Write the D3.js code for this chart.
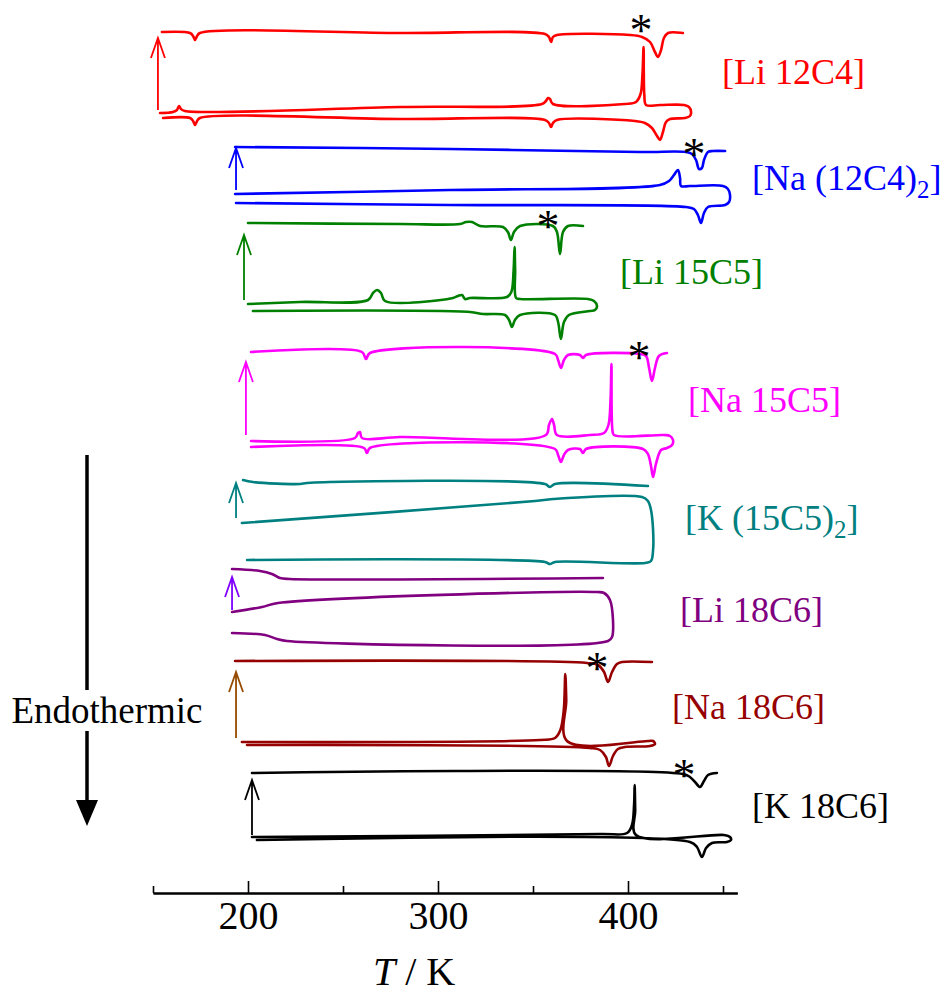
<!DOCTYPE html>
<html>
<head>
<meta charset="utf-8">
<script src="https://cdn.jsdelivr.net/npm/d3@7/dist/d3.min.js"></script>
<style>
  body { margin: 0; background: #fff; }
  svg { display: block; font-family: "Liberation Serif", "Times New Roman", serif; }
</style>
</head>
<body>
<svg width="952" height="993"></svg>
<script>
// ---- data: temperature T (K), heat flow (a.u., stacked with offsets) ----
var sampleNames = [['[Li 12C4]'], ['[Na (12C4)', '2', ']'], ['[Li 15C5]'], ['[Na 15C5]'],
  ['[K (15C5)', '2', ']'], ['[Li 18C6]'], ['[Na 18C6]'], ['[K 18C6]']];
var traceColors = ['#ff0000', '#0000ff', '#008000', '#ff00ff', '#008080', '#800080', '#960000', '#000000'];
var arrowColors = ['#ff0000', '#0000ff', '#008000', '#ff00ff', '#008080', '#8000ff', '#964b00', '#000000'];

// first heating (upper trace)
var li12c4Top = [[154.7,84.8],[169.5,84.7],[171.1,84.4],[172.1,84.0],[173.2,84.4],[174.7,84.7],[280,84.7],
  [356.3,84.6],[358.4,84.3],[359.5,83.8],[360.5,84.3],[362.6,84.5],[401.1,84.5],[407.4,84.3],[411.6,83.8],
  [414.2,82.8],[415.8,82.3],[417.4,83.0],[418.9,84.2],[421.1,84.7],[428.9,84.7]];
// second heating (lower) -> turn -> cooling (middle)
var li12c4Loop = [[155.3,76.2],[169.5,76.2],[171.1,75.9],[172.1,75.5],[173.2,75.9],[174.7,76.2],[280,76.1],
  [356.3,76.0],[358.4,75.7],[359.5,75.3],[360.5,75.7],[362.6,76.0],[403.7,75.9],[408.9,75.7],[412.6,75.2],
  [415.3,74.4],[416.8,74.0],[418.4,74.8],[420.0,75.8],[422.1,76.1],[430.0,76.2],
  [432.6,76.4],[433.2,76.8],[432.1,77.3],[429.5,77.5],
  [416.8,77.5],[409.5,77.5],[408.6,78.5],[408.2,83.3],[407.6,80.5],[406.6,78.6],[404.2,77.8],[398.4,77.6],
  [360.5,77.6],[358.9,78.1],[357.9,78.2],[356.8,77.9],[354.7,77.6],[280,77.3],
  [166.8,76.9],[164.7,77.1],[163.7,77.4],[162.6,77.0],[160.5,76.8],[153.7,76.7]];

var na12c4Top = [[193.2,73.3],[306.3,73.1],[406.3,72.8],[430.5,72.8],[433.7,72.6],[435.8,72.0],[437.4,71.1],
  [438.9,71.2],[440.0,72.0],[442.1,72.8],[444.7,72.9],[451.1,72.9]];
var na12c4Loop = [[193.7,67.7],[306.3,67.5],[430.5,67.3],[434.7,67.1],[436.8,66.5],[438.4,65.7],[440.0,66.7],
  [442.1,67.3],[451.1,67.5],[453.2,67.8],[453.7,68.5],[452.6,69.1],[450.0,69.4],
  [432.6,69.4],[427.9,69.4],[427.4,70.2],[426.3,71.0],[424.2,70.5],[421.6,69.9],[416.8,69.5],[306.3,69.0],[193.2,68.6]];

var li15c5Top = [[200,65.7],[280,65.6],[311.6,65.6],[314.7,65.8],[317.9,65.8],[322.1,65.4],[334.2,65.3],
  [336.8,64.8],[338.4,64.0],[340,64.8],[343.2,65.4],[360.5,65.4],[362.6,64.8],[364.2,62.6],[365.8,64.8],
  [368.4,65.4],[376.3,65.4]];
var li15c5Loop = [[202.6,56.9],[316.8,56.8],[323.7,56.6],[335.3,56.5],[337.4,56.0],[338.9,55.3],[340.5,56.0],
  [343.2,56.5],[361.6,56.5],[363.2,55.8],[364.7,54.1],[366.3,55.8],[368.9,56.5],[380,56.9],
  [382.6,57.0],[383.7,57.4],[382.1,57.9],[378.9,58.1],
  [343.2,58.1],[341.1,58.2],[340.6,61.0],[340.3,63.3],[339.8,61.0],[338.6,58.8],[336.3,58.3],[316.8,58.2],
  [314.2,58.1],[312.6,58.5],[310.5,58.4],[307.9,58.2],[272.1,57.9],[270.0,58.7],[267.9,59.0],[265.8,58.7],
  [263.2,58.0],[227.4,57.8],[200,57.6]];

var na15c5Top = [[201.6,52.8],[260,52.8],[262.1,52.1],[264.2,52.7],[361.6,52.6],[363.2,52.0],[364.7,51.2],
  [366.3,52.0],[368.4,52.5],[374.7,52.5],[376.3,52.2],[377.9,52.5],[406.3,52.6],[409.5,52.4],[411.1,51.2],
  [412.6,49.9],[414.2,51.2],[416.3,52.4],[420.5,52.7]];
var na15c5Loop = [[201.6,43.3],[261.1,43.2],[262.6,42.7],[264.2,43.2],[361.6,43.1],[363.2,42.5],[364.7,41.8],
  [366.3,42.5],[368.4,43.0],[374.7,43.1],[376.3,42.7],[377.9,43.1],[407.9,43.1],[410.5,42.6],[412.1,41.4],
  [413.2,40.3],[414.7,41.6],[417.4,43.0],[420.5,43.2],
  [423.2,43.5],[423.7,44.0],[422.1,44.4],[418.9,44.5],
  [392.6,44.5],[391.8,45.0],[391.3,51.6],[390.8,48.0],[389.7,45.5],[387.4,44.7],[380,44.5],[362.6,44.5],
  [361.1,45.5],[360.0,46.1],[358.4,45.5],[356.8,44.5],[280,44.3],[260,44.2],[258.9,44.8],[257.9,44.7],
  [256.3,44.2],[201.6,43.9]];

var k15c5Top = [[197.4,40.0],[202.6,39.8],[227.4,39.6],[231.1,39.7],[356.3,39.6],[358.9,39.3],[361.6,39.6],[410.5,39.4]];
var k15c5Loop = [[199.5,32.0],[356.3,31.8],[358.9,31.6],[361.6,31.8],[408.9,31.7],
  [412.1,31.9],[413.2,33.0],[413.2,35.0],[412.1,37.0],[410.5,37.9],[407.4,38.3],
  [360.5,38.1],[351.1,37.9],[196.8,35.7]];

var li18c6Top = [[191.6,31.1],[206.3,30.9],[212.6,30.6],[216.8,30.2],[222.1,30.1],[386.8,30.2]];
var li18c6Loop = [[191.6,24.7],[208.9,24.5],[215.3,24.1],[220.5,23.9],[389.5,23.9],
  [391.6,24.3],[392.1,26.0],[390.5,28.0],[387.4,28.7],[383.7,28.8],
  [215.8,27.7],[207.4,27.3],[191.6,26.8]];

var na18c6Top = [[193.2,21.9],[378.4,21.7],[384.2,21.5],[387.4,20.8],[389.5,19.8],[391.6,20.8],[394.2,21.6],
  [396.8,21.8],[412.6,21.8]];
var na18c6Loop = [[199.5,13.5],[380,13.2],[385.3,13.0],[388.4,12.3],[390.0,11.4],[392.1,12.4],[394.7,13.1],
  [398.4,13.3],[411.6,13.4],[414.2,13.6],[413.2,13.9],[410.5,13.9],
  [367.9,13.9],[367.5,18.0],[367.0,20.6],[366.2,17.0],[364.4,15.0],[361.6,14.2],[353.7,14.0],[196.8,13.8]];

var k18c6Top = [[202.1,10.7],[428.9,10.6],[432.6,10.3],[435.3,9.8],[437.9,9.3],[440.0,9.9],[442.1,10.5],[446.8,10.7]];
var k18c6Loop = [[204.7,4.0],[432.6,3.8],[436.3,3.3],[438.9,2.3],[441.1,3.2],[444.2,3.7],[452.1,3.8],
  [454.2,4.0],[453.7,4.3],[450.5,4.5],
  [404.2,4.5],[403.8,7.0],[403.5,9.5],[403.2,7.5],[402.1,5.5],[399.5,4.7],[385.3,4.6],[202.1,4.3]];

// vertical arrows: [T, from, to]
var upArrows = [[152.6,77.0,84.2],[193.7,69.0,73.2],[197.9,58.0,64.5],[198.9,44.5,51.8],
  [193.7,36.2,39.7],[191.6,27.0,30.3],[193.7,14.2,20.8],[202.1,4.5,10.0]];
// asterisks: [T, level]
var starMarks = [[406.8,85.8],[434.7,73.4],[357.9,66.2],[405.8,53.1],null,null,[383.7,22.0],[429.5,11.3]];

var majorTicks = [200, 300, 400];
var minorTicks = [150, 250, 350, 450];

var topTraces = [li12c4Top, na12c4Top, li15c5Top, na15c5Top, k15c5Top, li18c6Top, na18c6Top, k18c6Top];
var loopTraces = [li12c4Loop, na12c4Loop, li15c5Loop, na15c5Loop, k15c5Loop, li18c6Loop, na18c6Loop, k18c6Loop];
// label placement (px)
var labelPos = [[722, 84], [752, 190], [620, 284], [688, 412], [685, 530], [680, 622], [672, 719], [752, 818]];

var svg = d3.select('svg');

var x = d3.scaleLinear().domain([150, 457.5]).range([153, 737.25]);
var y = d3.scaleLinear().domain([0, 86]).range([880, 20]);

var line = d3.line()
  .x(function(d) { return x(d[0]); })
  .y(function(d) { return y(d[1]); })
  .curve(d3.curveCatmullRom.alpha(0.5));

var g = svg.append('g');

traceColors.forEach(function(c, i) {
  g.append('path').attr('d', line(topTraces[i]))
    .attr('fill', 'none').attr('stroke', c).attr('stroke-width', 2.6)
    .attr('stroke-linejoin', 'round').attr('stroke-linecap', 'round');
  g.append('path').attr('d', line(loopTraces[i]))
    .attr('fill', 'none').attr('stroke', c).attr('stroke-width', 2.6)
    .attr('stroke-linejoin', 'round').attr('stroke-linecap', 'round');

  var a = upArrows[i];
  var ax = x(a[0]), y0 = y(a[1]), y1 = y(a[2]);
  g.append('path')
    .attr('d', 'M' + ax + ',' + y0 + 'V' + y1 + 'M' + (ax - 7) + ',' + (y1 + 20) + 'L' + ax + ',' + y1 + 'L' + (ax + 7) + ',' + (y1 + 20))
    .attr('fill', 'none').attr('stroke', arrowColors[i]).attr('stroke-width', 1.8);

  var lab = g.append('text')
    .attr('x', labelPos[i][0]).attr('y', labelPos[i][1])
    .attr('fill', c).attr('font-size', 36);
  var parts = sampleNames[i];
  lab.append('tspan').text(parts[0]);
  if (parts.length > 1) {
    lab.append('tspan').attr('font-size', 25).attr('dy', 8).text(parts[1]);
    lab.append('tspan').attr('dy', -8).text(parts[2]);
  }

  if (starMarks[i]) {
    g.append('text')
      .attr('x', x(starMarks[i][0])).attr('y', y(starMarks[i][1]) + 24)
      .attr('text-anchor', 'middle').attr('font-size', 46).attr('fill', '#000')
      .text('*');
  }
});

// x axis
var axisY = 893;
var major = svg.append('g').attr('transform', 'translate(0,' + axisY + ')')
  .call(d3.axisBottom(x).tickValues(majorTicks).tickSizeInner(-12).tickSizeOuter(0).tickPadding(8)
    .tickFormat(d3.format('d')));
var minor = svg.append('g').attr('transform', 'translate(0,' + axisY + ')')
  .call(d3.axisBottom(x).tickValues(minorTicks).tickSizeInner(-7).tickSizeOuter(0).tickFormat(''));
[major, minor].forEach(function(ax) {
  ax.select('.domain').attr('stroke', '#000').attr('stroke-width', 2);
  ax.selectAll('.tick line').attr('stroke', '#000').attr('stroke-width', 1.6);
});
major.selectAll('.tick text').attr('font-size', 40).attr('fill', '#000')
  .attr('font-family', '"Liberation Serif", "Times New Roman", serif');

var xt = svg.append('text').attr('x', 414).attr('y', 985).attr('text-anchor', 'middle')
  .attr('font-size', 40).attr('fill', '#000');
xt.append('tspan').attr('font-style', 'italic').text('T');
xt.append('tspan').text(' / K');

// endothermic arrow
svg.append('line').attr('x1', 87).attr('x2', 87).attr('y1', 455).attr('y2', 690)
  .attr('stroke', '#000').attr('stroke-width', 3.5);
svg.append('line').attr('x1', 87).attr('x2', 87).attr('y1', 731).attr('y2', 802)
  .attr('stroke', '#000').attr('stroke-width', 3.5);
svg.append('path').attr('d', 'M76,800L98,800L87,826Z').attr('fill', '#000');
svg.append('text').attr('x', 107).attr('y', 723).attr('text-anchor', 'middle')
  .attr('font-size', 37).attr('fill', '#000').text('Endothermic');
</script>
</body>
</html>
